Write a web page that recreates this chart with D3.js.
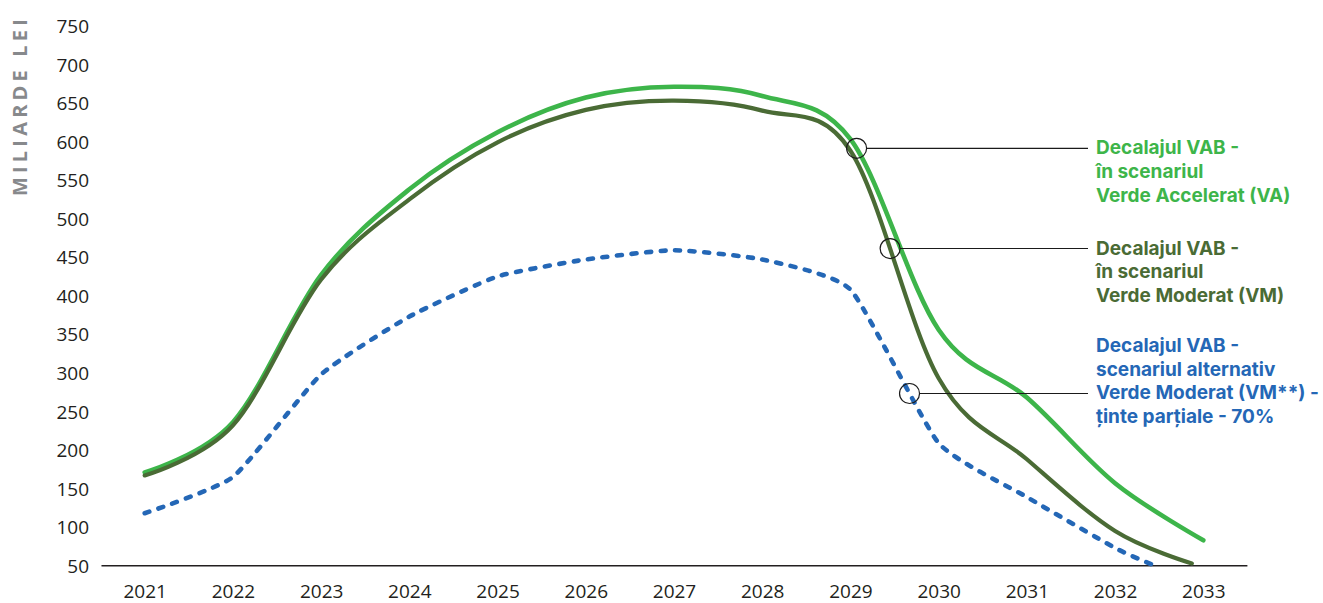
<!DOCTYPE html>
<html>
<head>
<meta charset="utf-8">
<script src="https://cdn.jsdelivr.net/npm/d3@7"></script>
<style>
  html, body { margin: 0; padding: 0; background: #ffffff; }
  svg { display: block; font-family: "Open Sans", "DejaVu Sans", sans-serif; }
</style>
</head>
<body>
<svg id="chart" width="1323" height="603"></svg>
<script>
// Years on the horizontal axis
const years = [2021, 2022, 2023, 2024, 2025, 2026, 2027, 2028, 2029, 2030, 2031, 2032, 2033];
// Vertical axis ticks (miliarde lei)
const yTicks = [50, 100, 150, 200, 250, 300, 350, 400, 450, 500, 550, 600, 650, 700, 750];

// Verde Accelerat (VA)
const vaYears  = [2021, 2022, 2023, 2024, 2025, 2026, 2027, 2028, 2029, 2030, 2031, 2032, 2033];
const vaValues = [171, 236, 427, 538, 612, 657, 671, 659, 603, 356, 268, 157, 83];

// Verde Moderat (VM)
const vmYears  = [2021, 2022, 2023, 2024, 2025, 2026, 2027, 2028, 2029, 2030, 2031, 2032, 2032.87];
const vmValues = [167, 232, 421, 525, 599, 641, 653, 640, 588, 293, 188, 95, 53];

// Alternative Verde Moderat (VM**) - partial targets 70%
const vmAltYears  = [2021, 2022, 2023, 2024, 2025, 2026, 2027, 2028, 2029, 2030, 2031, 2032, 2032.45];
const vmAltValues = [118, 165, 298, 373, 425, 447, 459, 447, 408, 209, 139, 73, 50];

// Callout labels and the year where each leader touches its curve
const labelLines = [
  ["Decalajul VAB -", "în scenariul", "Verde Accelerat (VA)"],
  ["Decalajul VAB -", "în scenariul", "Verde Moderat (VM)"],
  ["Decalajul VAB -", "scenariul alternativ", "Verde Moderat (VM**) -", "ținte parțiale - 70%"]
];
const calloutYears = [2029.07, 2029.45, 2029.67];

const svg = d3.select("#chart");

const x = d3.scaleLinear().domain([2021, 2033]).range([144.7, 1203.3]);
const y = d3.scaleLinear().domain([50, 750]).range([565.7, 25.8]);

const colors = { va: "#3db54a", vm: "#4a6b35", alt: "#2467b6" };

// Y axis: labels only
const yAxis = d3.axisLeft(y).tickValues(yTicks).tickSize(0).tickPadding(0).tickFormat(d3.format("d"));
const yg = svg.append("g").attr("transform", "translate(89,0)").call(yAxis);
yg.select(".domain").remove();
yg.selectAll("text")
  .attr("font-family", "'Open Sans', sans-serif")
  .attr("font-size", 19)
  .attr("fill", "#231f20")
  .attr("dy", "0.35em");

// X axis: baseline spanning half a year beyond the first and last year
svg.append("line")
  .attr("x1", x(2020.51)).attr("x2", x(2033.5))
  .attr("y1", y(50)).attr("y2", y(50))
  .attr("stroke", "#231f20").attr("stroke-width", 1.6);

const xAxis = d3.axisBottom(x).tickValues(years).tickSize(0).tickPadding(0).tickFormat(d3.format("d"));
const xg = svg.append("g").attr("transform", "translate(0,598)").call(xAxis);
xg.select(".domain").remove();
xg.selectAll("text")
  .attr("font-family", "'Open Sans', sans-serif")
  .attr("font-size", 19)
  .attr("fill", "#231f20")
  .attr("dy", 0);

// Axis title
svg.append("text")
  .attr("transform", "translate(27,105.5) rotate(-90)")
  .attr("text-anchor", "middle")
  .attr("font-family", "'Open Sans', sans-serif")
  .attr("font-weight", 700)
  .attr("font-size", 20)
  .attr("letter-spacing", 4.2)
  .attr("fill", "#87898c")
  .text("MILIARDE LEI");

const zip = (xs, vs) => xs.map((v, i) => [v, vs[i]]);

const smoothLine = d3.line()
  .x(d => x(d[0]))
  .y(d => y(d[1]))
  .curve(d3.curveCardinal.tension(0));

const tightLine = d3.line()
  .x(d => x(d[0]))
  .y(d => y(d[1]))
  .curve(d3.curveCardinal.tension(0.5));

const vaPath = svg.append("path")
  .datum(zip(vaYears, vaValues))
  .attr("d", smoothLine)
  .attr("fill", "none")
  .attr("stroke", colors.va)
  .attr("stroke-width", 4.6)
  .attr("stroke-linecap", "round")
  .attr("stroke-linejoin", "round");

const vmPath = svg.append("path")
  .datum(zip(vmYears, vmValues))
  .attr("d", smoothLine)
  .attr("fill", "none")
  .attr("stroke", colors.vm)
  .attr("stroke-width", 4.2)
  .attr("stroke-linecap", "round")
  .attr("stroke-linejoin", "round");

const altPath = svg.append("path")
  .datum(zip(vmAltYears, vmAltValues))
  .attr("d", tightLine)
  .attr("fill", "none")
  .attr("stroke", colors.alt)
  .attr("stroke-width", 4.6)
  .attr("stroke-dasharray", "5 9.6")
  .attr("stroke-linecap", "round");

// Find the point on a path whose x coordinate matches px
function pointAtX(pathNode, px) {
  const len = pathNode.getTotalLength();
  let lo = 0, hi = len;
  for (let i = 0; i < 40; i++) {
    const mid = (lo + hi) / 2;
    const p = pathNode.getPointAtLength(mid);
    if (p.x < px) lo = mid; else hi = mid;
  }
  return pathNode.getPointAtLength((lo + hi) / 2);
}

const callouts = [
  { path: vaPath, color: colors.va, lines: labelLines[0], align: 0 },
  { path: vmPath, color: colors.vm, lines: labelLines[1], align: 0 },
  { path: altPath, color: colors.alt, lines: labelLines[2], align: 2 }
];

const textX = 1096;
const leaderEnd = 1088;
const lineGap = 23.8;
const r = 10;

callouts.forEach((c, i) => {
  const p = pointAtX(c.path.node(), x(calloutYears[i]));
  const g = svg.append("g");
  g.append("line")
    .attr("x1", p.x + r).attr("x2", leaderEnd)
    .attr("y1", p.y).attr("y2", p.y)
    .attr("stroke", "#1a1a1a").attr("stroke-width", 1.1);
  g.append("circle")
    .attr("cx", p.x).attr("cy", p.y).attr("r", r)
    .attr("fill", "none")
    .attr("stroke", "#1a1a1a").attr("stroke-width", 1.2);
  const base = p.y + 6 - c.align * lineGap;
  const t = g.append("text")
    .attr("font-family", "Inter, 'Open Sans', sans-serif")
    .attr("font-weight", 700)
    .attr("font-size", 19)
    .attr("fill", c.color);
  c.lines.forEach((s, k) => {
    t.append("tspan").attr("x", textX).attr("y", base + k * lineGap).text(s);
  });
});
</script>
</body>
</html>
